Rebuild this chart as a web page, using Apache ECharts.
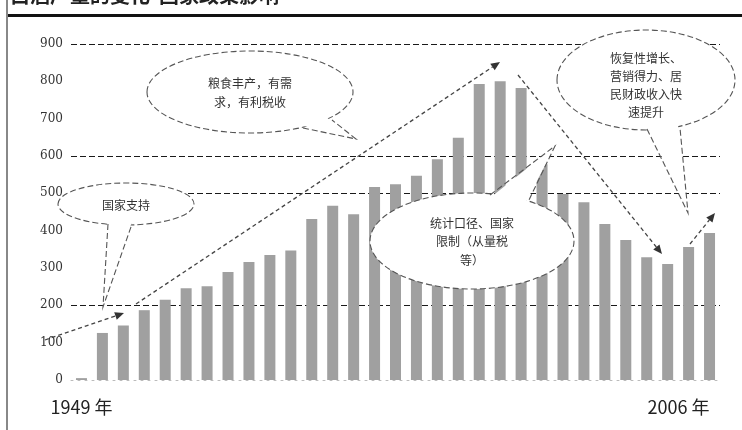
<!DOCTYPE html>
<html>
<head>
<meta charset="utf-8">
<script src="https://cdn.jsdelivr.net/npm/echarts@6/dist/echarts.min.js"></script>
<style>html,body{margin:0;padding:0;background:#fff}#c{width:742px;height:430px}</style>
</head>
<body>
<div id="c"></div>
<script>
// ---- data ----
var yearLabels = ['1949 年', '2006 年'];
var slotCount = 31;
var values = [5, 126, 146, 187, 215, 246, 251, 289, 316, 335, 347, 431, 467, 444, 517, 524, 547, 591, 649, 793, 800, 782, 578, 498, 476, 418, 375, 329, 311, 356, 394];
var yTicks = [0, 100, 200, 300, 400, 500, 600, 700, 800, 900];
var dashedLevels = [200, 500, 600, 900];
var titleText = '白酒产量的变化  国家政策影响';
var notes = [
  ['国家支持'],
  ['粮食丰产，有需', '求，有利税收'],
  ['恢复性增长、', '营销得力、居', '民财政收入快', '速提升'],
  ['统计口径、国家', '限制（从量税', '等）']
];

var categories = [];
for (var i = 0; i < slotCount; i++) {
  if (i === 0) categories.push({ value: yearLabels[0], textStyle: { align: 'center' } });
  else if (i === slotCount - 1) categories.push({ value: yearLabels[1], textStyle: { align: 'right' } });
  else categories.push('y' + i);
}
var splitColors = yTicks.map(function (t) { return dashedLevels.indexOf(t) >= 0 ? '#1a1a1a' : 'rgba(0,0,0,0)'; });

var chart = echarts.init(document.getElementById('c'));
var CJK = '"Noto Sans CJK SC", "Noto Sans", sans-serif';
var dashStroke = '#444';

function arrow(x1, y1, x2, y2) {
  var ang = Math.atan2(y2 - y1, x2 - x1);
  var L = 9, W = 4;
  var bx = x2 - L * Math.cos(ang), by = y2 - L * Math.sin(ang);
  var px = -Math.sin(ang) * W, py = Math.cos(ang) * W;
  return [
    { type: 'line', z: 20, shape: { x1: x1, y1: y1, x2: bx, y2: by },
      style: { stroke: dashStroke, lineWidth: 1.3, lineDash: [4, 3] } },
    { type: 'polygon', z: 20, shape: { points: [[x2, y2], [bx + px, by + py], [bx - px, by - py]] },
      style: { fill: '#333' } }
  ];
}

function bubble(cx, cy, rx, ry, base1, base2, tip, lines, ty, lh) {
  var els = [];
  els.push({ type: 'ellipse', z: 30, shape: { cx: cx, cy: cy, rx: rx, ry: ry },
    style: { fill: '#fff', stroke: '#555', lineWidth: 1.1, lineDash: [6, 3] } });
  var ib1 = [base1[0] + (cx - base1[0]) * 0.06, base1[1] + (cy - base1[1]) * 0.08];
  var ib2 = [base2[0] + (cx - base2[0]) * 0.06, base2[1] + (cy - base2[1]) * 0.08];
  els.push({ type: 'polygon', z: 31, shape: { points: [ib1, tip, ib2] }, style: { fill: '#fff' } });
  els.push({ type: 'polyline', z: 32, shape: { points: [base1, tip, base2] },
    style: { fill: null, stroke: '#555', lineWidth: 1.1, lineDash: [6, 3] } });
  lines.forEach(function (t, k) {
    els.push({ type: 'text', z: 33, x: cx, y: ty + k * lh,
      style: { text: t, fill: '#333', font: '12px ' + CJK, align: 'center', verticalAlign: 'middle' } });
  });
  return els;
}

var graphics = [];
graphics.push({ type: 'text', z: 5, left: 10, top: -15,
  style: { text: titleText, fill: '#222', font: 'bold 20px ' + CJK } });
graphics.push({ type: 'line', z: 5, shape: { x1: 6, y1: 15.5, x2: 742, y2: 15.5 }, style: { stroke: '#111', lineWidth: 3 } });
graphics.push({ type: 'line', z: 5, shape: { x1: 7, y1: 0, x2: 7, y2: 430 }, style: { stroke: '#888', lineWidth: 2 } });

graphics = graphics.concat(arrow(45, 340, 124, 313));
graphics = graphics.concat(arrow(136, 304, 500, 62));
graphics = graphics.concat(arrow(518, 75, 662, 254));
graphics = graphics.concat(arrow(690, 244, 715, 213));

graphics = graphics.concat(bubble(126, 204, 68, 21, [108, 224], [132, 224], [103, 307], notes[0], 205, 18));
graphics = graphics.concat(bubble(250, 92, 103, 41, [303, 128], [332, 120], [356, 139], notes[1], 83, 19));
graphics = graphics.concat(bubble(646, 80, 89, 50, [647, 129], [680, 128], [688, 213], notes[2], 58, 18));
graphics = graphics.concat(bubble(472, 241, 102, 48, [490, 195], [528, 202], [555, 146], notes[3], 223, 18.5));

chart.setOption({
  backgroundColor: '#fff',
  animation: false,
  grid: { left: 71, right: 22, top: 44, bottom: 50 },
  xAxis: {
    type: 'category',
    data: categories,
    axisLine: { show: true, lineStyle: { color: '#bbb', type: [2, 5], width: 1 } },
    axisTick: { show: false },
    axisLabel: {
      interval: function (idx) { return idx === 0 || idx === slotCount - 1; },
      margin: 18,
      fontSize: 18,
      color: '#222',
      fontFamily: CJK,
      formatter: function (v, idx) { return (idx === 0 || idx === slotCount - 1) ? v : ''; }
    },
    splitLine: { show: false }
  },
  yAxis: {
    type: 'value',
    min: 0, max: 900, interval: 100,
    axisLine: { show: false },
    axisTick: { show: false },
    axisLabel: { margin: 8, fontSize: 12, color: '#333', fontFamily: '"DejaVu Serif", serif' },
    splitLine: { show: true, lineStyle: { color: splitColors, type: [6, 3], width: 1.2 } }
  },
  series: [{
    type: 'bar',
    data: values,
    barWidth: 11,
    itemStyle: { color: '#a0a0a0' },
    z: 2
  }],
  graphic: { elements: graphics }
});
</script>
</body>
</html>
